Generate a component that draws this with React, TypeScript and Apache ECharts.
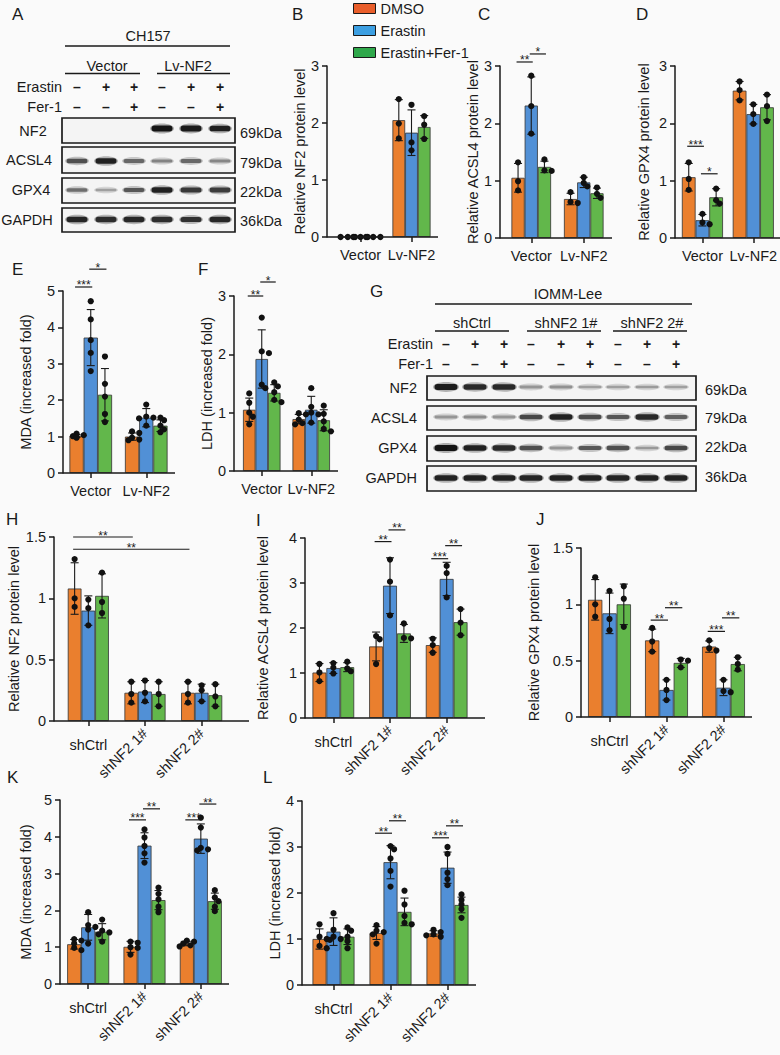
import React, { useEffect, useRef } from 'react';
import * as echarts from 'echarts';

const FONT = "'Liberation Sans', Arial, Helvetica, sans-serif";
const INK = '#1a1a1a';
const GROUPS = ['DMSO', 'Erastin', 'Erastin+Fer-1'];
const BAR_COLORS = ['#EA7F2E', '#5190D6', '#62B74B'];
const LEGEND_COLORS = ['#E95E2B', '#3C9FE2', '#2FA84B'];

// ---------- Panel A : western blot (CH157) ----------
const A_TITLE = 'CH157';
const A_GROUPS = ['Vector', 'Lv-NF2'];
const A_ERASTIN = ['–', '+', '+', '–', '+', '+'];
const A_FER1 = ['–', '–', '+', '–', '–', '+'];
const A_PROTEINS = ['NF2', 'ACSL4', 'GPX4', 'GAPDH'];
const A_KDA = ['69kDa', '79kDa', '22kDa', '36kDa'];
const A_BANDS = [
  [0, 0, 0, 1, 0.95, 0.92],
  [0.6, 0.9, 0.45, 0.3, 0.45, 0.28],
  [0.42, 0.15, 0.55, 0.9, 0.75, 0.72],
  [0.88, 0.82, 0.86, 0.82, 0.8, 0.86],
];

// ---------- Panel G : western blot (IOMM-Lee) ----------
const G_TITLE = 'IOMM-Lee';
const G_GROUPS = ['shCtrl', 'shNF2 1#', 'shNF2 2#'];
const G_ERASTIN = ['–', '+', '+', '–', '+', '+', '–', '+', '+'];
const G_FER1 = ['–', '–', '+', '–', '–', '+', '–', '–', '+'];
const G_PROTEINS = ['NF2', 'ACSL4', 'GPX4', 'GAPDH'];
const G_KDA = ['69kDa', '79kDa', '22kDa', '36kDa'];
const G_BANDS = [
  [0.95, 0.85, 0.85, 0.2, 0.22, 0.15, 0.15, 0.17, 0.15],
  [0.2, 0.25, 0.2, 0.65, 0.9, 0.62, 0.55, 0.85, 0.5],
  [1, 0.9, 0.85, 0.6, 0.2, 0.55, 0.6, 0.18, 0.65],
  [0.9, 0.92, 0.9, 0.88, 0.9, 0.9, 0.88, 0.9, 0.9],
];

// ---------- Bar panels ----------
// series order: DMSO, Erastin, Erastin+Fer-1 ; inner arrays per category
// sig: [catA, seriesA, catB, seriesB, y, label]
const CATS_2 = ['Vector', 'Lv-NF2'];
const CATS_3 = ['shCtrl', 'shNF2 1#', 'shNF2 2#'];

const B_MEANS = [[0, 2.05], [0, 1.83], [0, 1.93]];
const B_SD = [[0, 0.36], [0, 0.4], [0, 0.2]];
const B_DOTS = [[[0, 0, 0], [2.42, 1.99, 1.73]], [[0, 0, 0], [2.32, 1.66, 1.52]], [[0, 0, 0], [2.12, 1.97, 1.72]]];
const B_SIG: any[] = [];

const C_MEANS = [[1.05, 0.68], [2.31, 0.97], [1.24, 0.78]];
const C_SD = [[0.25, 0.1], [0.5, 0.09], [0.1, 0.09]];
const C_DOTS = [[[1.32, 0.99, 0.83], [0.8, 0.63, 0.61]], [[2.83, 2.3, 1.82], [1.06, 0.96, 0.9]], [[1.37, 1.18, 1.17], [0.88, 0.77, 0.7]]];
const C_SIG = [[0, 0, 0, 1, 3.07, '**'], [0, 1, 0, 2, 3.21, '*']];

const D_MEANS = [[1.06, 2.57], [0.31, 2.16], [0.71, 2.28]];
const D_SD = [[0.24, 0.16], [0.1, 0.17], [0.15, 0.22]];
const D_DOTS = [[[1.32, 1.03, 0.84], [2.73, 2.58, 2.4]], [[0.42, 0.27, 0.24], [2.33, 2.16, 1.99]], [[0.86, 0.66, 0.6], [2.5, 2.3, 2.04]]];
const D_SIG = [[0, 0, 0, 1, 1.6, '***'], [0, 1, 0, 2, 1.12, '*']];

const E_MEANS = [[1.02, 1.0], [3.72, 1.52], [2.15, 1.3]];
const E_SD = [[0.04, 0.1], [0.77, 0.25], [0.72, 0.16]];
const E_DOTS = [
  [[1.08, 1.04, 1.01, 0.99, 0.97], [1.14, 1.1, 0.97, 0.92, 0.9]],
  [[4.72, 4.22, 3.65, 3.3, 2.8], [1.88, 1.55, 1.52, 1.5, 1.3]],
  [[3.2, 2.45, 2.1, 1.62, 1.4], [1.52, 1.45, 1.3, 1.2, 1.12]],
];
const E_SIG = [[0, 0, 0, 1, 5.11, '***'], [0, 1, 0, 2, 5.6, '*']];

const F_MEANS = [[1.05, 0.89], [1.92, 1.05], [1.34, 0.87]];
const F_SD = [[0.2, 0.08], [0.5, 0.23], [0.14, 0.18]];
const F_DOTS = [
  [[1.33, 1.17, 1.0, 0.93, 0.8], [0.99, 0.97, 0.88, 0.82, 0.8]],
  [[2.63, 2.05, 2.02, 1.48, 1.42], [1.42, 1.1, 1.0, 0.97, 0.83]],
  [[1.52, 1.45, 1.35, 1.22, 1.18], [1.12, 0.98, 0.85, 0.72, 0.68]],
];
const F_SIG = [[0, 0, 0, 1, 3.0, '**'], [0, 1, 0, 2, 3.24, '*']];

const H_MEANS = [[1.08, 0.23, 0.23], [0.9, 0.24, 0.23], [1.02, 0.22, 0.21]];
const H_SD = [[0.21, 0.09, 0.09], [0.12, 0.09, 0.07], [0.18, 0.1, 0.09]];
const H_DOTS = [
  [[1.32, 1.0, 0.93], [0.32, 0.22, 0.15], [0.32, 0.22, 0.15]],
  [[0.99, 0.92, 0.78], [0.33, 0.23, 0.16], [0.29, 0.25, 0.16]],
  [[1.21, 0.97, 0.88], [0.32, 0.22, 0.12], [0.3, 0.2, 0.12]],
];
const H_SIG = [[0, 0, 1, 0, 1.5, '**'], [0, 0, 2, 0, 1.4, '**']];

const I_MEANS = [[1.01, 1.59, 1.62], [1.11, 2.94, 3.09], [1.13, 1.88, 2.13]];
const I_SD = [[0.2, 0.32, 0.16], [0.12, 0.62, 0.37], [0.1, 0.2, 0.29]];
const I_DOTS = [
  [[1.2, 1.01, 0.82], [1.82, 1.75, 1.2], [1.76, 1.62, 1.45]],
  [[1.22, 1.12, 0.99], [3.52, 3.03, 2.28], [3.38, 3.22, 2.68]],
  [[1.25, 1.1, 1.04], [2.1, 1.78, 1.77], [2.42, 2.12, 1.84]],
];
const I_SIG = [[1, 0, 1, 1, 3.92, '**'], [1, 1, 1, 2, 4.18, '**'], [2, 0, 2, 1, 3.54, '***'], [2, 1, 2, 2, 3.83, '**']];

const J_MEANS = [[1.04, 0.68, 0.625], [0.92, 0.24, 0.26], [1.0, 0.48, 0.47]];
const J_SD = [[0.18, 0.1, 0.05], [0.18, 0.09, 0.07], [0.18, 0.04, 0.06]];
const J_DOTS = [
  [[1.24, 1.0, 0.89], [0.79, 0.67, 0.58], [0.68, 0.61, 0.59]],
  [[1.12, 0.87, 0.77], [0.33, 0.24, 0.15], [0.33, 0.23, 0.22]],
  [[1.16, 1.05, 0.8], [0.51, 0.5, 0.44], [0.53, 0.47, 0.42]],
];
const J_SIG = [[1, 0, 1, 1, 0.86, '**'], [1, 1, 1, 2, 0.97, '**'], [2, 0, 2, 1, 0.76, '***'], [2, 1, 2, 2, 0.88, '**']];

const K_MEANS = [[1.08, 1.01, 1.1], [1.54, 3.76, 3.95], [1.42, 2.28, 2.25]];
const K_SD = [[0.13, 0.15, 0.06], [0.35, 0.35, 0.4], [0.22, 0.26, 0.22]];
const K_DOTS = [
  [[1.22, 1.18, 1.1, 0.98, 0.92], [1.15, 1.12, 1.0, 0.98, 0.8], [1.18, 1.15, 1.1, 1.05, 1.02]],
  [[1.95, 1.6, 1.55, 1.48, 1.1], [4.2, 3.98, 3.75, 3.55, 3.3], [4.52, 4.25, 3.7, 3.66, 3.63]],
  [[1.75, 1.45, 1.4, 1.35, 1.15], [2.62, 2.45, 2.3, 2.1, 1.95], [2.55, 2.35, 2.25, 2.1, 1.98]],
];
const K_SIG = [[1, 0, 1, 1, 4.46, '***'], [1, 1, 1, 2, 4.76, '**'], [2, 0, 2, 1, 4.46, '***'], [2, 1, 2, 2, 4.89, '**']];

const L_MEANS = [[1.0, 1.13, 1.12], [1.16, 2.67, 2.55], [1.05, 1.59, 1.74]];
const L_SD = [[0.22, 0.14, 0.06], [0.3, 0.36, 0.34], [0.17, 0.3, 0.17]];
const L_DOTS = [
  [[1.32, 1.05, 1.0, 0.85, 0.8], [1.3, 1.18, 1.15, 1.1, 0.9], [1.2, 1.15, 1.1, 1.08, 1.05]],
  [[1.56, 1.2, 1.05, 1.0, 0.98], [3.02, 2.95, 2.75, 2.48, 2.14], [3.0, 2.85, 2.44, 2.3, 2.17]],
  [[1.25, 1.18, 1.05, 0.95, 0.8], [2.05, 1.75, 1.5, 1.35, 1.32], [1.97, 1.85, 1.75, 1.65, 1.46]],
];
const L_SIG = [[1, 0, 1, 1, 3.3, '**'], [1, 1, 1, 2, 3.57, '**'], [2, 0, 2, 1, 3.2, '***'], [2, 1, 2, 2, 3.46, '**']];

// ---------- layout ----------
const PANELS = [
  { cats: CATS_2, means: B_MEANS, sd: B_SD, dots: B_DOTS, sig: B_SIG, yName: 'Relative NF2 protein level', yMax: 3, yInt: 1,
    catL: 335, catR: 437, axisX: 327, axisEnd: 438, top: 66, bottom: 237, barW: 12.7, nameGap: 13, rotate: false },
  { cats: CATS_2, means: C_MEANS, sd: C_SD, dots: C_DOTS, sig: C_SIG, yName: 'Relative ACSL4 protein level', yMax: 3, yInt: 1,
    catL: 505, catR: 610, axisX: 500, axisEnd: 612, top: 66, bottom: 238, barW: 13.2, nameGap: 19, rotate: false },
  { cats: CATS_2, means: D_MEANS, sd: D_SD, dots: D_DOTS, sig: D_SIG, yName: 'Relative GPX4 protein level', yMax: 3, yInt: 1,
    catL: 677, catR: 779, axisX: 675, axisEnd: 780, top: 66, bottom: 238, barW: 13.7, nameGap: 24, rotate: false },
  { cats: CATS_2, means: E_MEANS, sd: E_SD, dots: E_DOTS, sig: E_SIG, yName: 'MDA (increased fold)', yMax: 5, yInt: 1,
    catL: 63, catR: 174, axisX: 63, axisEnd: 175, top: 291, bottom: 473, barW: 14.2, nameGap: 30, rotate: false },
  { cats: CATS_2, means: F_MEANS, sd: F_SD, dots: F_DOTS, sig: F_SIG, yName: 'LDH (increased fold)', yMax: 3, yInt: 1,
    catL: 237, catR: 336, axisX: 234, axisEnd: 338, top: 296, bottom: 471, barW: 12.5, nameGap: 19, rotate: false },
  { cats: CATS_3, means: H_MEANS, sd: H_SD, dots: H_DOTS, sig: H_SIG, yName: 'Relative NF2 protein level', yMax: 1.5, yInt: 0.5,
    catL: 60, catR: 230, axisX: 54, axisEnd: 249, top: 537, bottom: 721, barW: 13.7, nameGap: 27, rotate: true },
  { cats: CATS_3, means: I_MEANS, sd: I_SD, dots: I_DOTS, sig: I_SIG, yName: 'Relative ACSL4 protein level', yMax: 4, yInt: 1,
    catL: 305, catR: 475, axisX: 305, axisEnd: 485, top: 538, bottom: 718, barW: 13.9, nameGap: 35, rotate: true },
  { cats: CATS_3, means: J_MEANS, sd: J_SD, dots: J_DOTS, sig: J_SIG, yName: 'Relative GPX4 protein level', yMax: 1.5, yInt: 0.5,
    catL: 581, catR: 752, axisX: 581, axisEnd: 752, top: 548, bottom: 717, barW: 14.3, nameGap: 40, rotate: true },
  { cats: CATS_3, means: K_MEANS, sd: K_SD, dots: K_DOTS, sig: K_SIG, yName: 'MDA (increased fold)', yMax: 5, yInt: 1,
    catL: 60, catR: 229, axisX: 60, axisEnd: 229, top: 800, bottom: 984, barW: 14, nameGap: 27, rotate: true },
  { cats: CATS_3, means: L_MEANS, sd: L_SD, dots: L_DOTS, sig: L_SIG, yName: 'LDH (increased fold)', yMax: 4, yInt: 1,
    catL: 305, catR: 476, axisX: 302, axisEnd: 476, top: 801, bottom: 985, barW: 14, nameGap: 17, rotate: true },
];

const LETTERS: [string, number, number][] = [
  ['A', 12, 14], ['B', 292, 14], ['C', 478, 14], ['D', 636, 14], ['E', 12, 269], ['F', 198, 269],
  ['G', 370, 291], ['H', 6, 519], ['I', 256, 520], ['J', 536, 519], ['K', 7, 777], ['L', 263, 777],
];

const BLOT_A = {
  title: A_TITLE, titleX: 148, titleY: 36, titleLine: [65, 230, 46],
  groups: A_GROUPS, groupPos: [[107, 65, 140], [188, 157, 230]], groupY: 66, groupLineY: 73.5,
  treatX: 62, erY: 87, ferY: 107, erastin: A_ERASTIN, fer: A_FER1,
  lanes: [77, 106, 134, 162, 191, 220], bandW: 21,
  boxX1: 62, boxX2: 235, rows: [[118, 143], [147, 173], [178, 203], [208, 232]], bandY: [128.5, 161, 190, 219.5],
  bands: A_BANDS, proteins: A_PROTEINS, protX: [33, 29, 31, 27], protY: [131, 160, 190, 220], protAlign: 'center',
  kda: A_KDA, kdaX: 240, kdaY: [133, 163, 192, 221],
};

const BLOT_G = {
  title: G_TITLE, titleX: 568, titleY: 294, titleLine: [435, 692, 304],
  groups: G_GROUPS, groupPos: [[472, 435, 509], [566, 527, 601], [652, 613, 687]], groupY: 323, groupLineY: 331,
  treatX: 433, erY: 344, ferY: 364, erastin: G_ERASTIN, fer: G_FER1,
  lanes: [446, 475, 504, 531, 561, 590, 618, 647, 676], bandW: 23,
  boxX1: 427, boxX2: 696, rows: [[376, 400], [406, 430], [436, 461], [466, 491]], bandY: [387, 417, 448, 478],
  bands: G_BANDS, proteins: G_PROTEINS, protX: [417, 417, 417, 417], protY: [388, 418, 448, 478], protAlign: 'right',
  kda: G_KDA, kdaX: 705, kdaY: [390, 418, 447, 477],
};

function txt(text: string, x: number, y: number, opts: any = {}) {
  return {
    type: 'text', x, y, z: 100, silent: true,
    style: { text, fill: INK, fontSize: 14.5, fontFamily: FONT, align: 'center', verticalAlign: 'middle', ...opts },
  };
}
function hline(x1: number, x2: number, y: number, w = 1.3) {
  return { type: 'line', z: 100, silent: true, shape: { x1, y1: y, x2, y2: y }, style: { stroke: INK, lineWidth: w } };
}

function blot(b: any) {
  const out: any[] = [];
  out.push(txt(b.title, b.titleX, b.titleY));
  out.push(hline(b.titleLine[0], b.titleLine[1], b.titleLine[2]));
  b.groups.forEach((g: string, i: number) => {
    const [cx, x1, x2] = b.groupPos[i];
    out.push(txt(g, cx, b.groupY));
    out.push(hline(x1, x2, b.groupLineY));
  });
  out.push(txt('Erastin', b.treatX, b.erY, { align: 'right' }));
  out.push(txt('Fer-1', b.treatX, b.ferY, { align: 'right' }));
  b.lanes.forEach((lx: number, i: number) => {
    out.push(txt(b.erastin[i], lx, b.erY, { fontWeight: 'bold', fontSize: 14 }));
    out.push(txt(b.fer[i], lx, b.ferY, { fontWeight: 'bold', fontSize: 14 }));
  });
  b.rows.forEach((r: number[], ri: number) => {
    out.push({
      type: 'rect', z: 90, silent: true,
      shape: { x: b.boxX1, y: r[0], width: b.boxX2 - b.boxX1, height: r[1] - r[0] },
      style: { fill: '#f4f4f4', stroke: INK, lineWidth: 1.7 },
    });
    b.bands[ri].forEach((v: number, li: number) => {
      if (v <= 0) return;
      const h = 2 + 4 * v;
      const cx = b.lanes[li];
      const cy = b.bandY[ri];
      // soft halo
      out.push({
        type: 'ellipse', z: 94, silent: true,
        shape: { cx, cy, rx: b.bandW / 2 + 1.5, ry: h / 2 + 2 },
        style: { fill: `rgba(12,12,12,${(0.1 + 0.2 * v).toFixed(2)})` },
      });
      // band core
      out.push({
        type: 'rect', z: 95, silent: true,
        shape: { x: cx - b.bandW / 2, y: cy - h / 2, width: b.bandW, height: h, r: h / 2 },
        style: { fill: `rgba(12,12,12,${(0.15 + 0.8 * v).toFixed(2)})` },
      });
    });
    out.push(txt(b.proteins[ri], b.protX[ri], b.protY[ri], { align: b.protAlign }));
    out.push(txt(b.kda[ri], b.kdaX, b.kdaY[ri], { align: 'left' }));
  });
  return out;
}

function buildOption() {
  const grid: any[] = [];
  const xAxis: any[] = [];
  const yAxis: any[] = [];
  const series: any[] = [];
  const graphic: any[] = [];

  PANELS.forEach((p, gi) => {
    grid.push({ left: p.catL, top: p.top, width: p.catR - p.catL, height: p.bottom - p.top });
    const labelBase = { color: INK, fontSize: 14.5, fontFamily: FONT, interval: 0 };
    const xi = xAxis.length;
    xAxis.push({
      type: 'category', gridIndex: gi, data: p.cats, position: 'bottom',
      axisLine: { show: false },
      axisTick: { show: true, alignWithLabel: true, length: 5, lineStyle: { color: INK, width: 1.5 } },
      axisLabel: p.rotate
        ? { ...labelBase, margin: 16, formatter: (v: string, i: number) => (i === 0 ? v : '') }
        : { ...labelBase, margin: 10 },
    });
    if (p.rotate) {
      xAxis.push({
        type: 'category', gridIndex: gi, data: p.cats, position: 'bottom',
        axisLine: { show: false }, axisTick: { show: false },
        axisLabel: { ...labelBase, rotate: 45, margin: 10, formatter: (v: string, i: number) => (i === 0 ? '' : v) },
      });
    }
    const yi = yAxis.length;
    yAxis.push({
      type: 'value', gridIndex: gi, min: 0, max: p.yMax, interval: p.yInt, offset: p.catL - p.axisX,
      name: p.yName, nameLocation: 'middle', nameGap: p.nameGap,
      nameTextStyle: { color: INK, fontSize: 14.5, fontFamily: FONT },
      axisLine: { show: true, lineStyle: { color: INK, width: 1.5 } },
      axisTick: { show: true, length: 5, lineStyle: { color: INK, width: 1.5 } },
      axisLabel: { color: INK, fontSize: 14.5, fontFamily: FONT, margin: 8 },
      splitLine: { show: false },
    });

    // x baseline
    graphic.push({
      type: 'line', z: 100, silent: true,
      shape: { x1: p.axisX, y1: p.bottom, x2: p.axisEnd, y2: p.bottom },
      style: { stroke: INK, lineWidth: 1.5 },
    });

    for (let s = 0; s < 3; s++) {
      series.push({
        type: 'bar', name: GROUPS[s], xAxisIndex: xi, yAxisIndex: yi, data: p.means[s],
        barWidth: p.barW, barGap: '0%', silent: true, z: 2,
        itemStyle: { color: BAR_COLORS[s], borderColor: '#333', borderWidth: 0.8 },
      });
    }
    for (let s = 0; s < 3; s++) {
      const sIdx = s;
      series.push({
        type: 'custom', name: 'err-' + gi + '-' + s, xAxisIndex: xi, yAxisIndex: yi, clip: false, silent: true, z: 4,
        data: p.cats.map((c, i) => [i, p.means[sIdx][i], p.sd[sIdx][i]]),
        renderItem: (params: any, api: any) => {
          const cat = api.value(0);
          const m = api.value(1);
          const sd = api.value(2);
          const base = api.coord([cat, m]);
          const cx = base[0] + (sIdx - 1) * p.barW;
          const children: any[] = [];
          if (sd > 0) {
            const yt = api.coord([cat, m + sd])[1];
            const yb = api.coord([cat, Math.max(0, m - sd)])[1];
            const st = { stroke: INK, lineWidth: 1.1 };
            children.push({ type: 'line', shape: { x1: cx, y1: yt, x2: cx, y2: yb }, style: st });
            children.push({ type: 'line', shape: { x1: cx - 4, y1: yt, x2: cx + 4, y2: yt }, style: st });
            children.push({ type: 'line', shape: { x1: cx - 4, y1: yb, x2: cx + 4, y2: yb }, style: st });
          }
          const vals: number[] = p.dots[sIdx][params.dataIndex];
          const placed: number[][] = [];
          const cands = [0, 3.6, -3.6, 7.2, -7.2];
          vals.forEach((v) => {
            const y = api.coord([cat, v])[1];
            let off = 0;
            for (const c of cands) {
              if (placed.every((q) => Math.hypot(q[0] - c, q[1] - y) >= 4.4)) { off = c; break; }
            }
            placed.push([off, y]);
            children.push({ type: 'circle', shape: { cx: cx + off, cy: y, r: 3.1 }, style: { fill: '#111' } });
          });
          return { type: 'group', children };
        },
      });
    }
    if (p.sig.length) {
      series.push({
        type: 'custom', name: 'sig-' + gi, xAxisIndex: xi, yAxisIndex: yi, clip: false, silent: true, z: 5,
        data: p.sig.map((q: any[]) => [q[0], q[4], q[1], q[2], q[3]]),
        renderItem: (params: any, api: any) => {
          const ca = api.value(0), y = api.value(1), sa = api.value(2), cb = api.value(3), sb = api.value(4);
          const pa = api.coord([ca, y]);
          const pb = api.coord([cb, y]);
          const x1 = pa[0] + (sa - 1) * p.barW - 1.5;
          const x2 = pb[0] + (sb - 1) * p.barW + 1.5;
          const label = p.sig[params.dataIndex][5];
          return {
            type: 'group',
            children: [
              { type: 'line', shape: { x1, y1: pa[1], x2, y2: pa[1] }, style: { stroke: INK, lineWidth: 1.2 } },
              {
                type: 'text', x: (x1 + x2) / 2, y: pa[1] - 1.5,
                style: { text: label, fill: INK, fontSize: 12, fontFamily: FONT, align: 'center', verticalAlign: 'middle' },
              },
            ],
          };
        },
      });
    }
  });

  LETTERS.forEach(([t, x, y]) => graphic.push(txt(t, x, y, { fontSize: 17, align: 'left' })));
  graphic.push(...blot(BLOT_A));
  graphic.push(...blot(BLOT_G));

  return {
    animation: false,
    backgroundColor: '#fafafa',
    textStyle: { fontFamily: FONT },
    legend: {
      left: 353, top: 1, orient: 'vertical', itemWidth: 22, itemHeight: 10, itemGap: 7, padding: 0,
      icon: 'rect', selectedMode: false,
      textStyle: { color: INK, fontSize: 14.5, fontFamily: FONT, lineHeight: 14 },
      data: GROUPS.map((g, i) => ({ name: g, itemStyle: { color: LEGEND_COLORS[i], borderColor: INK, borderWidth: 1 } })),
    },
    grid, xAxis, yAxis, series, graphic,
  };
}

export default function App() {
  const ref = useRef<HTMLDivElement>(null);
  useEffect(() => {
    if (!ref.current) return;
    const chart = echarts.init(ref.current, undefined, { renderer: 'svg' });
    chart.setOption(buildOption() as any);
    return () => chart.dispose();
  }, []);
  return <div ref={ref} style={{ position: 'absolute', left: 0, top: 0, width: 780, height: 1055 }} />;
}
